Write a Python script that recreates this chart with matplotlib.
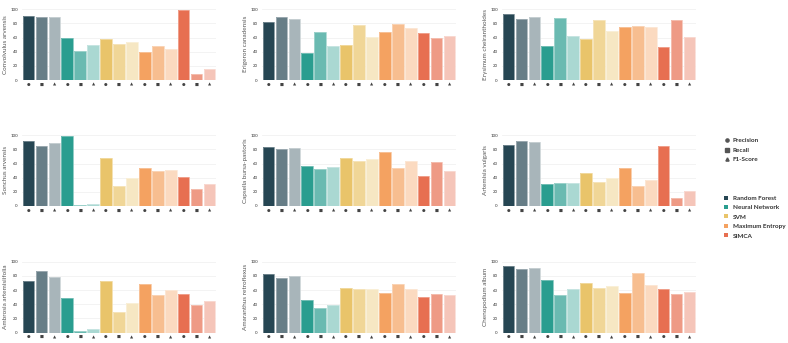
import matplotlib
matplotlib.use("Agg")
import matplotlib.pyplot as plt
from matplotlib.lines import Line2D
from matplotlib.patches import Patch
import numpy as np

plt.rcParams['font.family'] = ['Lato', 'DejaVu Sans']

species = ["Convolvulus arvensis", "Erigeron canadensis", "Erysimum cheiranthoides",
           "Sonchus arvensis", "Capsella bursa-pastoris", "Artemisia vulgaris",
           "Ambrosia artemisiifolia", "Amaranthus retroflexus", "Chenopodium album"]
models = ["Random Forest", "Neural Network", "SVM", "Maximum Entropy", "SIMCA"]
metrics = ["Precision", "Recall", "F1-Score"]
metric_symbols = ["●", "■", "▲"]
model_colors = ["#264653", "#2a9d8f", "#e9c46a", "#f4a261", "#e76f51"]
metric_alphas = [1.0, 0.7, 0.4]

# values per species: [model][metric] (Precision, Recall, F1)
convolvulus = [[90, 88.5, 89.5], [59, 41.5, 49], [58.5, 51, 54], [39.5, 48.5, 44], [99.5, 8.5, 15.5]]
erigeron = [[82.5, 88.5, 85.5], [37.5, 67.5, 48.5], [50, 77.5, 61], [68.5, 79, 73], [66, 60, 62.5]]
erysimum = [[93, 86.5, 89.5], [48.5, 87.5, 62.5], [58, 84.5, 69], [75, 76.5, 75.5], [47, 84.5, 60.5]]
sonchus = [[92, 84.5, 88.5], [98.5, 1.5, 2.8], [68, 28.5, 39.5], [53, 49, 50.5], [41, 24.5, 31]]
capsella = [[84, 80, 82.5], [56.5, 52.5, 54.5], [68.5, 64, 66], [76, 54, 63], [42, 61.5, 50]]
artemisia = [[86.5, 92.5, 90], [31, 32.5, 32], [46.5, 34.5, 39.5], [53, 28.5, 36.5], [84.5, 11.5, 21]]
ambrosia = [[72.5, 86.5, 79], [49, 2.3, 4.6], [72.5, 29.5, 42], [69, 53, 60], [54, 38.5, 45]]
amaranthus = [[83, 76.5, 80], [46, 34, 39], [63, 61.5, 62], [56, 68, 61], [49.5, 55, 52.5]]
chenopodium = [[93.5, 89, 91], [74.5, 52.5, 61.5], [70, 63.5, 66], [55.5, 84, 66.5], [61, 54.5, 57.5]]
all_values = [convolvulus, erigeron, erysimum, sonchus, capsella, artemisia,
              ambrosia, amaranthus, chenopodium]

fig = plt.figure(figsize=(7.88, 3.43), dpi=100)

col_lefts = [22 / 788, 262 / 788, 502 / 788]
ax_w = 194 / 788
row_bottoms = [1 - 80 / 343, 1 - 206 / 343, 1 - 332.5 / 343]
ax_h = 71.5 / 343

def tint(hexc, a):
    c = np.array(matplotlib.colors.to_rgb(hexc))
    return tuple(c * a + (1 - a))

for i, (sp, vals) in enumerate(zip(species, all_values)):
    r, c = divmod(i, 3)
    ax = fig.add_axes([col_lefts[c], row_bottoms[r], ax_w, ax_h])
    xs, hs, cols, labs = [], [], [], []
    k = 0
    for m in range(len(models)):
        for j in range(len(metrics)):
            xs.append(k)
            hs.append(vals[m][j])
            cols.append(tint(model_colors[m], metric_alphas[j]))
            labs.append(metric_symbols[j])
            k += 1
    ax.bar(xs, hs, width=0.9, color=cols, linewidth=0, zorder=3)
    ax.bar(xs, hs, width=0.9, color='none',
           edgecolor=[tuple(np.array(cc) * 0.6 + 0.4) for cc in cols], linewidth=0.6, zorder=4)
    ax.set_xlim(-0.5, len(xs) - 0.5)
    ax.set_ylim(0, 101)
    ax.set_yticks([0, 20, 40, 60, 80, 100])
    ax.tick_params(axis='y', labelsize=3.2, length=0, pad=3, labelcolor='#333333')
    ax.set_xticks(xs)
    ax.set_xticklabels(labs, fontsize=3.0, color='#444444', family='DejaVu Sans')
    ax.tick_params(axis='x', length=0, pad=2)
    ax.grid(axis='y', color='#eeeeee', linewidth=0.5, zorder=0)
    for s in ax.spines.values():
        s.set_visible(False)
    ax.set_ylabel(sp, fontsize=4.6, color='#555555')
    ax.yaxis.set_label_coords(-14 / 194, 0.5)

# metric legend
metric_handles = [
    Line2D([], [], marker='o', linestyle='none', color='#555555', markersize=2.3),
    Line2D([], [], marker='s', linestyle='none', color='#555555', markersize=2.3),
    Line2D([], [], marker='^', linestyle='none', color='#555555', markersize=2.3),
]
leg1 = fig.legend(metric_handles, metrics, loc='upper left', bbox_to_anchor=(724 / 788, 1 - 138 / 343),
                  frameon=False, handlelength=0.85, handletextpad=0.55,
                  labelspacing=0.6, borderpad=0, borderaxespad=0,
                  prop={'size': 4.6, 'weight': 'bold'})
for t in leg1.get_texts():
    t.set_color('#333333')

model_handles = [Patch(facecolor=c) for c in model_colors]
leg2 = fig.legend(model_handles, models, loc='upper left', bbox_to_anchor=(724 / 788, 1 - 195.5 / 343),
                  frameon=False, handlelength=0.6, handleheight=0.6, handletextpad=0.8,
                  labelspacing=0.65, borderpad=0, borderaxespad=0,
                  prop={'size': 4.6, 'weight': 'bold'})
for t in leg2.get_texts():
    t.set_color('#333333')

fig.savefig("out.png", dpi=100)
